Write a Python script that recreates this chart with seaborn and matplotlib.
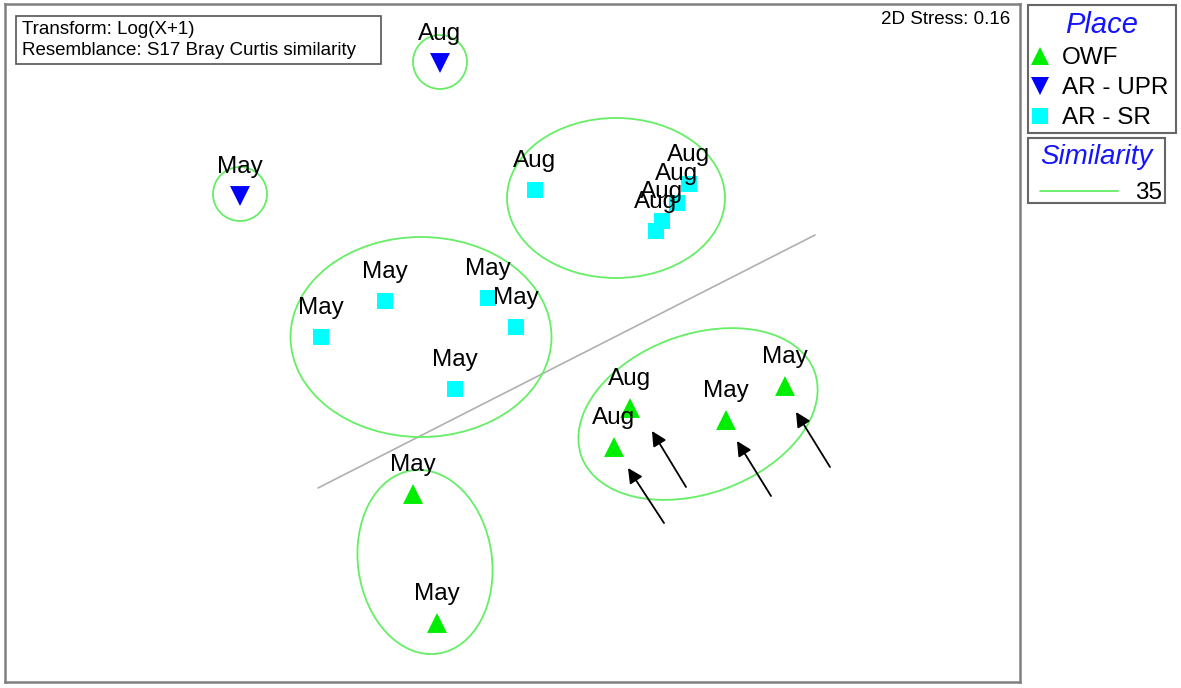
import numpy as np
import pandas as pd
import matplotlib.pyplot as plt
import seaborn as sns
from matplotlib.patches import Ellipse, Rectangle
from matplotlib.lines import Line2D

# nMDS ordination (pixel-like units, MDS2 grows downward)
places = ['AR - UPR', 'AR - UPR',
          'AR - SR', 'AR - SR', 'AR - SR', 'AR - SR', 'AR - SR',
          'AR - SR', 'AR - SR', 'AR - SR', 'AR - SR', 'AR - SR',
          'OWF', 'OWF', 'OWF', 'OWF', 'OWF', 'OWF']
months = ['Aug', 'May',
          'Aug', 'Aug', 'Aug', 'Aug', 'Aug',
          'May', 'May', 'May', 'May', 'May',
          'May', 'May', 'Aug', 'Aug', 'May', 'May']
mds1 = [440, 240, 535, 689, 677, 662, 656, 321, 385, 488, 516, 455, 413, 437, 630, 614, 726, 785]
mds2 = [63, 196, 190, 184, 203, 221, 231, 337, 301, 298, 327, 389, 494, 623, 408, 447, 420, 386]

# 35% similarity contours: centre x, centre y, width, height, angle
ell_x = [440, 240, 616, 421, 425, 698]
ell_y = [62, 194, 198, 337, 562, 414]
ell_w = [54, 54, 218, 261, 134, 248]
ell_h = [54, 54, 160, 200, 185, 159]
ell_a = [0, 0, 0, 0, -8, -20]

# separating line
line_x = [318, 815]
line_y = [488, 235]

# arrows (tail -> head)
arr_x0 = [664, 686, 771, 830]
arr_y0 = [523, 487, 496, 467]
arr_x1 = [628, 652, 737, 796]
arr_y1 = [468, 431, 441, 412]

df = pd.DataFrame({'Place': places, 'Month': months, 'MDS1': mds1, 'MDS2': mds2})

pal = {'OWF': '#00ee00', 'AR - UPR': '#0000ff', 'AR - SR': '#00ffff'}
mk = {'OWF': '^', 'AR - UPR': 'v', 'AR - SR': 's'}
sz = {'OWF': 205, 'AR - UPR': 205, 'AR - SR': 135}
ell_col = '#66ee66'

sns.set_style('white')
plt.rcParams['font.family'] = ['Liberation Sans', 'DejaVu Sans']
plt.rcParams['text.color'] = 'black'

fig = plt.figure(figsize=(11.81, 6.88), dpi=100)
W, H = 1181, 688
ax = fig.add_axes([5 / W, 1 - 682 / H, 1015 / W, 678 / H])

sns.scatterplot(data=df, x='MDS1', y='MDS2', hue='Place', style='Place', size='Place',
                palette=pal, markers=mk, sizes=sz, linewidth=0, legend=False,
                ax=ax, zorder=3)

for x, y, w, h, a in zip(ell_x, ell_y, ell_w, ell_h, ell_a):
    ax.add_patch(Ellipse((x, y), w, h, angle=a, fill=False, ec=ell_col, lw=1.3, zorder=2))

ax.plot(line_x, line_y, color='#b0b0b0', lw=1.2, zorder=1)

for x0, y0, x1, y1 in zip(arr_x0, arr_y0, arr_x1, arr_y1):
    ax.annotate('', xy=(x1, y1), xytext=(x0, y0),
                arrowprops=dict(arrowstyle='-|>', color='black', lw=1.3,
                                mutation_scale=22, shrinkA=0, shrinkB=0))

for _, r in df.iterrows():
    ax.text(r['MDS1'], r['MDS2'] - 18, r['Month'], ha='center', va='bottom',
            fontsize=17.5, color='black', zorder=5)

ax.set_xlim(5, 1020)
ax.set_ylim(682, 4)
ax.set_xticks([])
ax.set_yticks([])
ax.set_xlabel('')
ax.set_ylabel('')
for s in ax.spines.values():
    s.set_color('#808080')
    s.set_linewidth(1.8)

# info box
ax.add_patch(Rectangle((16, 16), 365, 48, fill=False, ec='#555555', lw=1.2, zorder=4))
ax.text(22, 40, 'Transform: Log(X+1)\nResemblance: S17 Bray Curtis similarity',
        ha='left', va='center', fontsize=13.5, linespacing=1.35)
ax.text(1010, 19, '2D Stress: 0.16', ha='right', va='center', fontsize=13.5)

# legend frames
fig.add_artist(Rectangle((1028 / W, 1 - 133 / H), 148 / W, 128 / H, transform=fig.transFigure,
                         fill=False, ec='#666666', lw=1.5))
fig.add_artist(Rectangle((1028 / W, 1 - 203 / H), 137 / W, 65 / H, transform=fig.transFigure,
                         fill=False, ec='#666666', lw=1.5))

h1 = [Line2D([], [], ls='none', marker=mk[p], color=pal[p], markersize=13 if p != 'AR - SR' else 12,
             markeredgewidth=0) for p in ['OWF', 'AR - UPR', 'AR - SR']]
leg1 = fig.legend(h1, ['OWF', 'AR - UPR', 'AR - SR'], loc='upper left',
                  bbox_to_anchor=(1028 / W, 1 - 5 / H), fontsize=17.5, labelcolor='black',
                  title='Place', title_fontproperties={'style': 'italic', 'size': 21},
                  frameon=False, handlelength=0.5, handletextpad=0.66, labelspacing=0.33,
                  borderpad=0.25, borderaxespad=0)
leg1.get_title().set_color('#1414ff')

h2 = [Line2D([], [], color=ell_col, lw=1.3)]
leg2 = fig.legend(h2, ['35'], loc='upper left',
                  bbox_to_anchor=(1028 / W, 1 - 132 / H), fontsize=17.5, labelcolor='black',
                  title='Similarity', title_fontproperties={'style': 'italic', 'size': 20},
                  frameon=False, handlelength=3.2, handletextpad=0.7, alignment='left',
                  borderpad=0.5, borderaxespad=0)
leg2.get_title().set_color('#1414ff')

fig.savefig('out.png', dpi=100)
